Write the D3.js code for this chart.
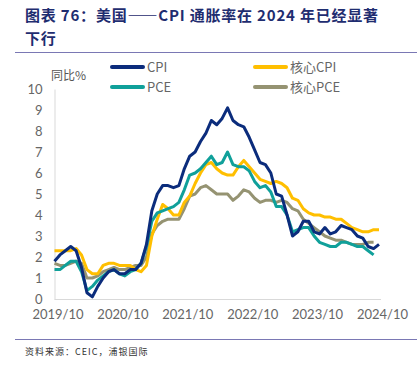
<!DOCTYPE html>
<html lang="zh">
<head>
<meta charset="UTF-8">
<script src="https://cdn.jsdelivr.net/npm/d3@7"></script>
<title>CPI</title>
<style>
  body { margin: 0; background: #fff; }
  svg { display: block; font-family: "Noto Sans CJK SC", "Noto Sans", sans-serif; }
</style>
</head>
<body>
<svg id="chart" width="417" height="377"></svg>
<script>
// monthly, 2019/10 .. 2024/10
const cpi = [1.8,2.1,2.3, 2.5,2.3,1.5,0.3,0.1,0.6,1.0,1.3,1.4,1.2,1.2,1.4,
  1.4,1.7,2.6,4.2,5.0,5.4,5.4,5.3,5.4,6.2,6.8,7.0,
  7.5,7.9,8.5,8.3,8.6,9.1,8.5,8.3,8.2,7.7,7.1,6.5,
  6.4,6.0,5.0,4.9,4.0,3.0,3.2,3.7,3.7,3.2,3.1,3.4,
  3.1,3.2,3.5,3.4,3.3,3.0,2.9,2.5,2.4,2.6];
const coreCpi = [2.3,2.3,2.3, 2.3,2.4,2.1,1.4,1.2,1.2,1.6,1.7,1.7,1.6,1.6,1.6,
  1.4,1.3,1.6,3.0,3.8,4.5,4.3,4.0,4.0,4.6,4.9,5.5,
  6.0,6.4,6.5,6.2,6.0,5.9,5.9,6.3,6.6,6.3,6.0,5.7,
  5.6,5.5,5.6,5.5,5.3,4.8,4.7,4.3,4.1,4.0,4.0,3.9,
  3.9,3.8,3.8,3.6,3.4,3.3,3.2,3.2,3.3,3.3];
const pce = [1.4,1.4,1.6, 1.8,1.8,1.3,0.4,0.6,0.9,1.1,1.3,1.4,1.2,1.1,1.3,
  1.4,1.7,2.5,3.7,4.1,4.2,4.3,4.4,4.6,5.2,5.9,6.0,
  6.2,6.5,6.8,6.4,6.5,7.0,6.4,6.3,6.3,6.1,5.6,5.3,
  5.4,5.1,4.4,4.4,4.0,3.2,3.3,3.4,3.4,3.0,2.7,2.6,
  2.5,2.5,2.7,2.7,2.6,2.5,2.5,2.3,2.1];
const corePce = [1.7,1.6,1.6, 1.7,1.8,1.7,1.0,1.0,1.1,1.3,1.4,1.5,1.4,1.4,1.5,
  1.6,1.6,2.0,3.1,3.5,3.7,3.8,3.8,3.8,4.3,4.9,5.0,
  5.3,5.4,5.2,5.0,5.0,5.0,4.7,4.9,5.2,5.1,4.8,4.6,
  4.7,4.7,4.6,4.7,4.6,4.3,4.2,3.8,3.6,3.4,3.2,3.0,
  2.9,2.8,2.8,2.7,2.6,2.6,2.6,2.7,2.7];
const yTicks = [0,1,2,3,4,5,6,7,8,9,10];
const xTickLabels = ["2019/10","2020/10","2021/10","2022/10","2023/10","2024/10"];

const series = [
  {name: "CPI", values: cpi, color: "#0b2c7c"},
  {name: "PCE", values: pce, color: "#10a09a"},
  {name: "核心CPI", values: coreCpi, color: "#ffbf00"},
  {name: "核心PCE", values: corePce, color: "#959372"}
];

const svg = d3.select("#chart");

// title
const titleColor = "#1f2d70";
svg.append("text").attr("x", 25).attr("y", 21)
  .attr("font-size", 15).attr("font-weight", "bold").attr("fill", titleColor)
  .attr("letter-spacing", 0.8)
  .text("图表 76：美国——CPI 通胀率在 2024 年已经显著");
svg.append("text").attr("x", 25).attr("y", 44)
  .attr("font-size", 15).attr("font-weight", "bold").attr("fill", titleColor)
  .attr("letter-spacing", 0.8)
  .text("下行");
svg.append("line").attr("x1", 15).attr("x2", 417).attr("y1", 52.5).attr("y2", 52.5)
  .attr("stroke", "#7a78b4").attr("stroke-width", 1.2);

const x = d3.scaleLinear().domain([0, 60]).range([54.5, 379]);
const y = d3.scaleLinear().domain([0, 10]).range([299, 89]);

// axes
const yAxis = svg.append("g").attr("transform", "translate(54.5,0)")
  .call(d3.axisLeft(y).tickValues(yTicks).tickSize(0).tickPadding(12));
yAxis.select(".domain").attr("stroke", "#d9d9d9");
yAxis.selectAll("text").attr("font-size", 13).attr("fill", "#666")
  .attr("font-family", "Lato, 'Open Sans', sans-serif");

const xAxis = svg.append("g").attr("transform", "translate(0,299.5)")
  .call(d3.axisBottom(x).tickValues(xTickLabels.map((d, i) => i * 12))
    .tickFormat((d, i) => xTickLabels[i]).tickSize(0).tickPadding(10));
xAxis.select(".domain").attr("stroke", "#d9d9d9").attr("d", "M54.5,0H381");
xAxis.selectAll("text").attr("font-size", 13).attr("fill", "#666")
  .attr("font-family", "Lato, 'Open Sans', sans-serif").attr("dx", 3);

svg.append("text").attr("x", 51).attr("y", 80).attr("font-size", 12).attr("fill", "#555")
  .text("同比%");

// lines (core PCE drawn first, CPI on top)
const line = d3.line().x((d, i) => x(i)).y(d => y(d));
const drawOrder = [series[3], series[2], series[1], series[0]];
svg.append("g").selectAll("path").data(drawOrder).join("path")
  .attr("d", d => line(d.values))
  .attr("fill", "none").attr("stroke", d => d.color)
  .attr("stroke-width", 3).attr("stroke-linejoin", "round");

// legend
const legendPos = [[112, 67], [112, 87], [255, 67], [255, 87]];
const legend = svg.append("g").selectAll("g").data(series).join("g")
  .attr("transform", (d, i) => `translate(${legendPos[i][0]},${legendPos[i][1]})`);
legend.append("line").attr("x1", 0).attr("x2", 31)
  .attr("stroke", d => d.color).attr("stroke-width", 4).attr("stroke-linecap", "round");
legend.append("text").attr("x", 35).attr("y", 4.5).attr("font-size", 13).attr("fill", "#666")
  .text(d => d.name);

// footer
svg.append("line").attr("x1", 15).attr("x2", 417).attr("y1", 339.5).attr("y2", 339.5)
  .attr("stroke", "#7a78b4").attr("stroke-width", 1.2);
svg.append("text").attr("x", 25).attr("y", 355).attr("font-size", 9).attr("fill", "#333")
  .attr("letter-spacing", 1)
  .text("资料来源：CEIC，浦银国际");
</script>
</body>
</html>
